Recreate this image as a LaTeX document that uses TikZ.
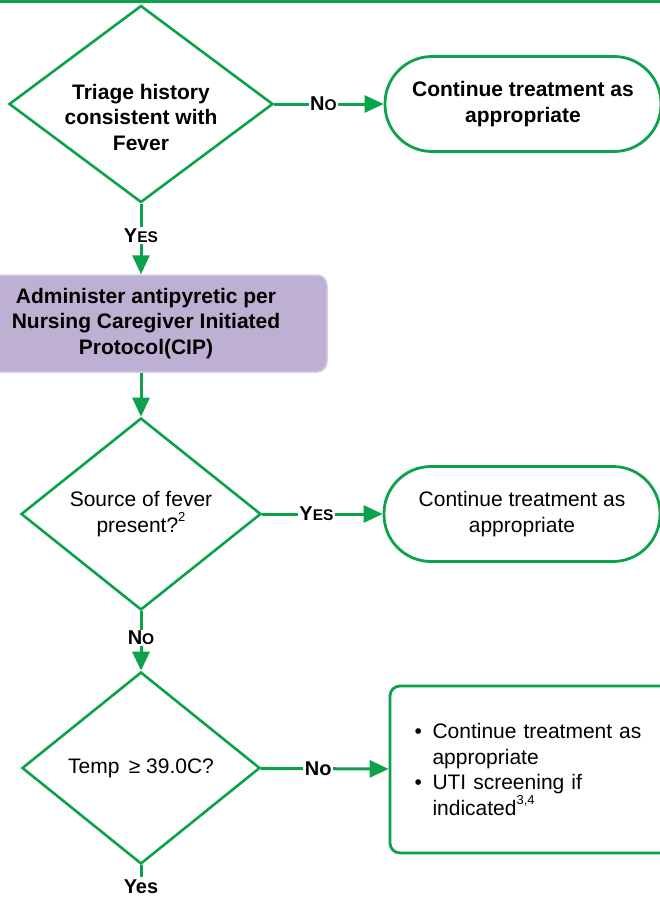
\documentclass[tikz,border=0pt]{standalone}
\usepackage{fontspec}
\setmainfont{Liberation Sans}
\usetikzlibrary{shapes.geometric,arrows.meta}

\definecolor{flowgreen}{RGB}{12,161,75}
\definecolor{cipfill}{RGB}{190,176,210}
\definecolor{cipedge}{RGB}{214,205,228}
\newcommand{\smallcap}[1]{{\fontsize{15.5}{15.5}\selectfont #1}}
\newcommand{\supnum}[1]{\raisebox{0.5em}{\fontsize{13}{13}\selectfont #1}}

\begin{document}
\begin{tikzpicture}[x=1pt,y=-1pt,
    every node/.style={font=\fontsize{21}{25.5}\selectfont, align=center},
    decision/.style={diamond, draw=flowgreen, line width=2.6pt, inner sep=0pt, aspect=1.3},
    terminal/.style={rectangle, draw=flowgreen, line width=2.8pt, rounded corners=47pt,
      minimum width=276pt, minimum height=95pt},
    cipbox/.style={rectangle, fill=cipfill, draw=cipedge, line width=1.5pt, rounded corners=10pt,
      minimum width=362pt, minimum height=97pt, font=\fontsize{21}{25.5}\selectfont\bfseries},
    listbox/.style={rectangle, draw=flowgreen, line width=2.8pt, rounded corners=10pt,
      minimum width=294pt, minimum height=167pt, text width=245pt, align=left},
    flow/.style={draw=flowgreen, line width=3pt},
    lbl/.style={fill=white, inner sep=1.5pt, pos=0.45, font=\fontsize{20}{20}\selectfont\bfseries},
    >={Triangle[length=19pt,width=17pt]}]
  \clip (0,0) rectangle (660,898);
  \draw[flowgreen, line width=3pt] (0,1.5) -- (660,1.5);

  % first decision
  \node[decision, minimum width=264pt, minimum height=197pt] (d1) at (141,104) {};
  \node[font=\fontsize{21}{25.5}\selectfont\bfseries] (t1) at (141,117) {Triage history\\consistent with\\Fever};
  \node[terminal, font=\fontsize{21}{25.5}\selectfont\bfseries] (end1) at (523,104) {Continue treatment as\\appropriate};
  \draw[flow,->] (d1) -- (end1) node[lbl] {N\smallcap{O}};

  % antipyretic
  \node[cipbox] (cip) at (146,323.5) {Administer antipyretic per\\Nursing Caregiver Initiated\\Protocol(CIP)};
  \draw[flow,->] (d1) -- (d1 |- cip.north) node[lbl] {Y\smallcap{ES}};

  % source of fever
  \node[decision, minimum width=240pt, minimum height=192pt] (d2) at (141,514) {Source of fever\\present?\supnum{2}};
  \node[terminal] (end2) at (522,514) {Continue treatment as\\appropriate};
  \draw[flow,->] (cip.south -| d2) -- (d2);
  \draw[flow,->] (d2) -- (end2) node[lbl] {Y\smallcap{ES}};

  % temperature
  \node[decision, minimum width=238pt, minimum height=192pt] (d3) at (141,768) {Temp\, ≥ 39.0C?};
  \draw[flow,->] (d2) -- (d3) node[lbl] {N\smallcap{O}};
  \node[listbox] (box3) at (537,769.5) {\makebox[18pt][l]{\textbullet}Continue treatment as\\
    \hspace*{18pt}appropriate\\
    \makebox[18pt][l]{\textbullet}UTI screening if\\
    \hspace*{18pt}indicated\supnum{3,4}};
  \draw[flow,->] (d3) -- (box3) node[lbl] {No};
  \node[font=\fontsize{20}{20}\selectfont\bfseries] (yes3) at (141,887) {Yes};
  \draw[flow] (d3) -- (yes3);
\end{tikzpicture}
\end{document}
